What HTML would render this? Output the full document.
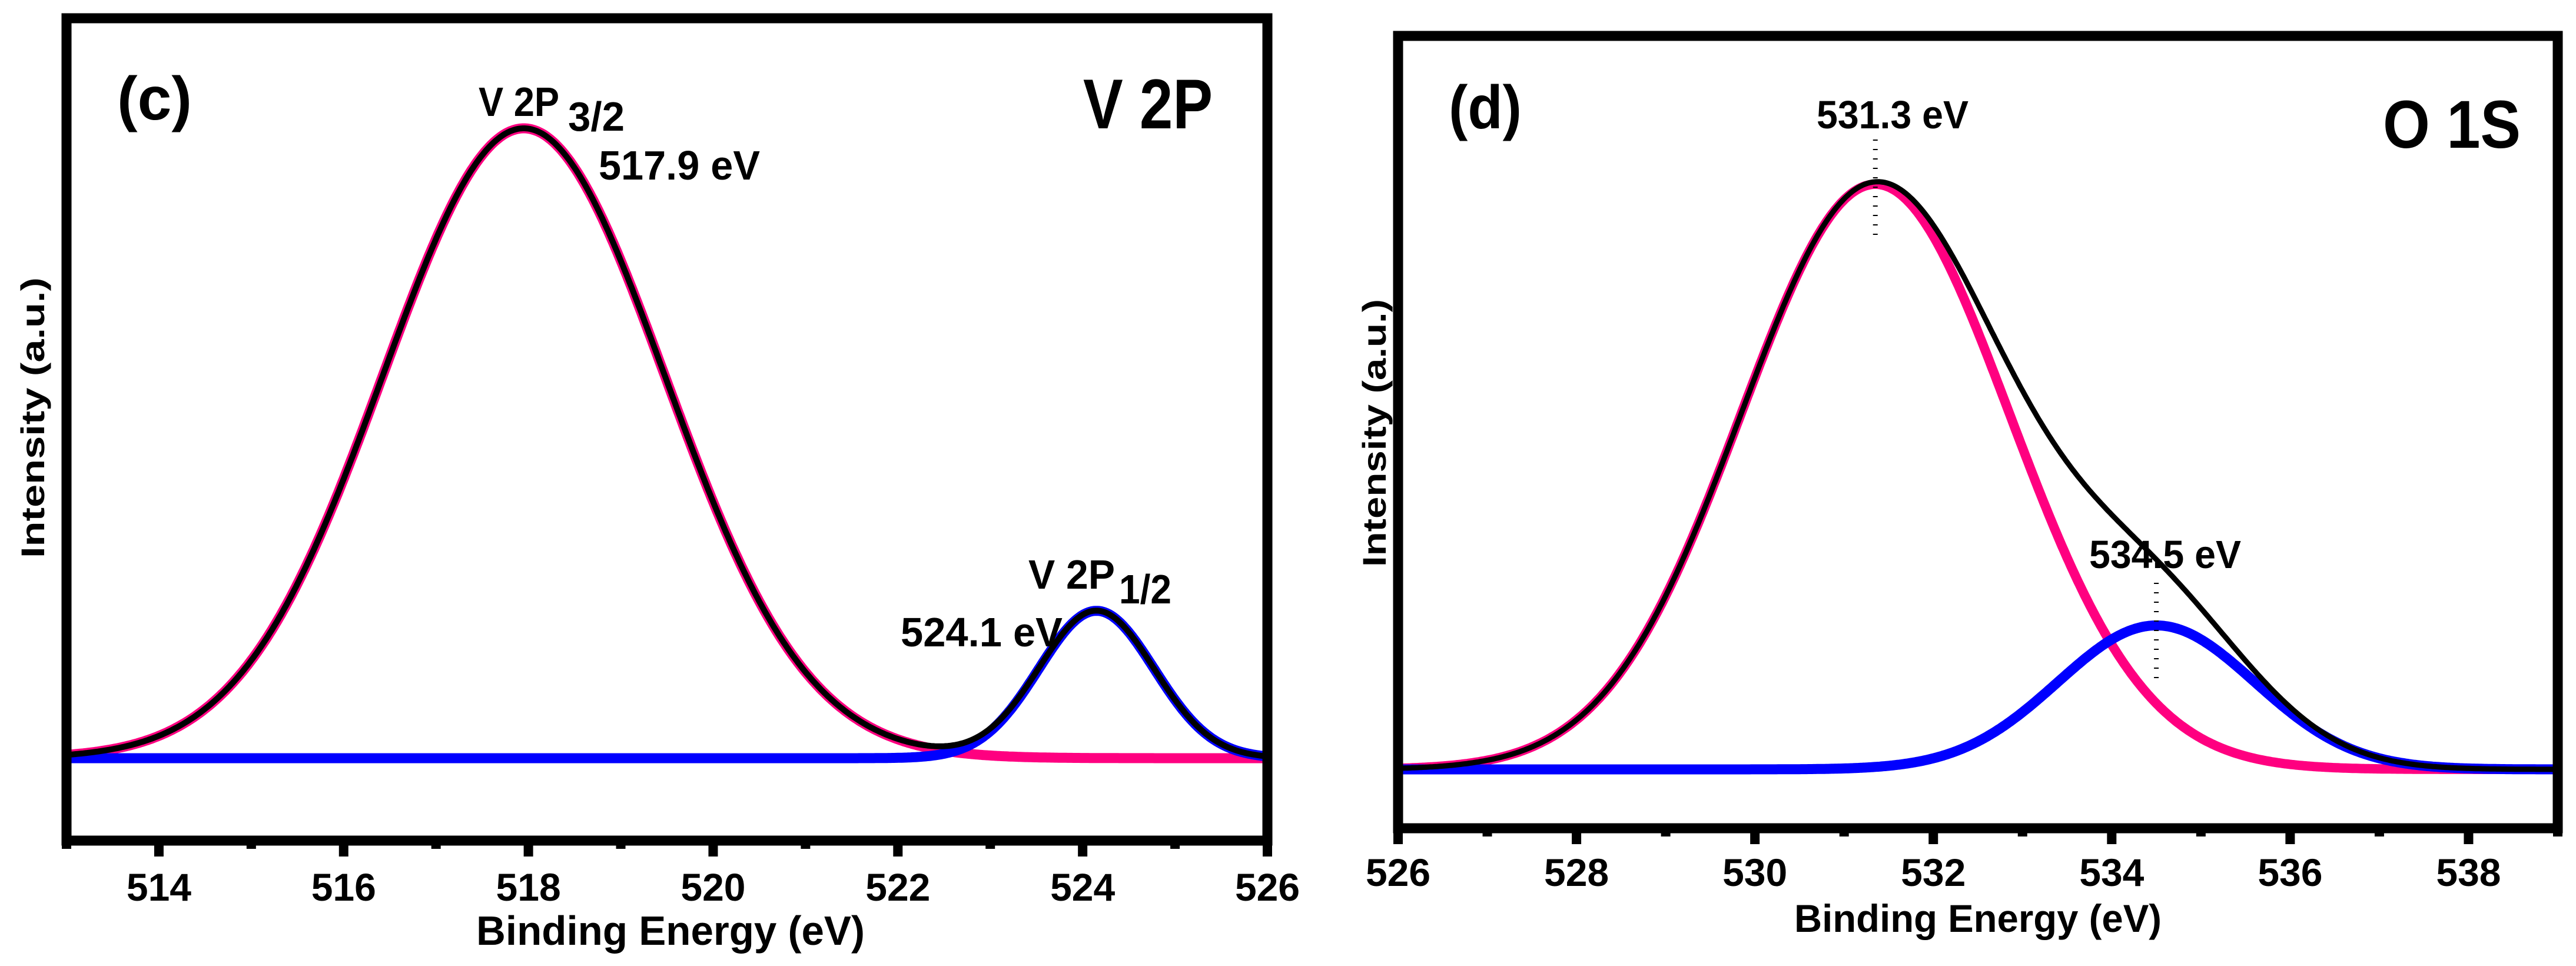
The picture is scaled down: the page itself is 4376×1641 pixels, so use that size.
<!DOCTYPE html>
<html><head><meta charset="utf-8"><style>
html,body{margin:0;padding:0;background:#fff;}
svg{display:block;font-family:"Liberation Sans",Arial,sans-serif;font-weight:bold;}
</style></head><body>
<svg id="chart" width="4376" height="1641" viewBox="0 0 4376 1641" xmlns="http://www.w3.org/2000/svg">
<rect width="4376" height="1641" fill="#fff"/>
<g id="panelC"></g>
<g id="panelD"></g>

<!-- Panel C texts -->
<text x="199" y="203" font-size="104" textLength="127" lengthAdjust="spacingAndGlyphs">(c)</text>
<text x="1840" y="218" font-size="120" textLength="220" lengthAdjust="spacingAndGlyphs">V 2P</text>
<text x="813" y="197" font-size="70" textLength="137" lengthAdjust="spacingAndGlyphs">V 2P</text>
<text x="965" y="222" font-size="70" textLength="96" lengthAdjust="spacingAndGlyphs">3/2</text>
<text x="1017" y="305" font-size="70" textLength="274" lengthAdjust="spacingAndGlyphs">517.9 eV</text>
<text x="1747" y="1000" font-size="70" textLength="147" lengthAdjust="spacingAndGlyphs">V 2P</text>
<text x="1901" y="1025" font-size="70" textLength="89" lengthAdjust="spacingAndGlyphs">1/2</text>
<text x="1530" y="1098" font-size="70" textLength="275" lengthAdjust="spacingAndGlyphs">524.1 eV</text>
<text x="809" y="1605" font-size="70" textLength="660" lengthAdjust="spacingAndGlyphs">Binding Energy (eV)</text>
<text transform="translate(75,948) rotate(-90)" x="0" y="0" font-size="56" textLength="477" lengthAdjust="spacingAndGlyphs">Intensity (a.u.)</text>

<!-- Panel D texts -->
<text x="2461" y="218" font-size="104" textLength="124" lengthAdjust="spacingAndGlyphs">(d)</text>
<text x="4048" y="251" font-size="115" textLength="234" lengthAdjust="spacingAndGlyphs">O 1S</text>
<text x="3086" y="218" font-size="67" textLength="258" lengthAdjust="spacingAndGlyphs">531.3 eV</text>
<text x="3549" y="965" font-size="67" textLength="258" lengthAdjust="spacingAndGlyphs">534.5 eV</text>
<text x="3048" y="1583" font-size="66" textLength="624" lengthAdjust="spacingAndGlyphs">Binding Energy (eV)</text>
<text transform="translate(2354,963) rotate(-90)" x="0" y="0" font-size="56" textLength="455" lengthAdjust="spacingAndGlyphs">Intensity (a.u.)</text>
</svg>
<script>
// ---- Panel C data (V 2p) ----
const cCenters = [517.95, 524.15];
const cHeights = [100, 23.4];
const cFwhm = [3.6, 1.47];
const cTicks = [514, 516, 518, 520, 522, 524, 526];
// ---- Panel D data (O 1s) ----
const dCenters = [531.35, 534.5];
const dHeights = [100, 24.6];
const dFwhm = [3.55, 2.6];
const dTicks = [526, 528, 530, 532, 534, 536, 538];
const dMarkers = [531.35, 534.5];

const NS = "http://www.w3.org/2000/svg";
function mk(tag, attrs, parent){
  const el = document.createElementNS(NS, tag);
  for (const k in attrs) el.setAttribute(k, attrs[k]);
  parent.appendChild(el);
  return el;
}
function gauss(x, c, h, f){ return h*Math.exp(-4*Math.LN2*(x-c)*(x-c)/(f*f)); }

function drawPanel(g, cfg){
  const xs = v => cfg.x0 + (v - cfg.xmin)*(cfg.x1 - cfg.x0)/(cfg.xmax - cfg.xmin);
  const ys = v => cfg.base - v*cfg.yk;
  const colors = ["#ff0080", "#0000ff"];
  const widths = [cfg.pinkW, 17];
  const names = ["peak1-fit-curve", "peak2-fit-curve"];
  const sumPts = [];
  for (let i = 0; i < cfg.centers.length; i++){
    const pts = [];
    for (let x = cfg.xmin; x <= cfg.xmax + 1e-9; x += 0.02){
      pts.push(xs(x).toFixed(1) + "," + ys(gauss(x, cfg.centers[i], cfg.heights[i], cfg.fwhm[i])).toFixed(1));
    }
    const p = mk("polyline", {points: pts.join(" "), fill: "none", stroke: colors[i], "stroke-width": widths[i], "stroke-linejoin": "round"}, g);
    
    
  }
  for (let x = cfg.xmin; x <= cfg.xmax + 1e-9; x += 0.02){
    let s = 0;
    for (let i = 0; i < cfg.centers.length; i++) s += gauss(x, cfg.centers[i], cfg.heights[i], cfg.fwhm[i]);
    sumPts.push(xs(x).toFixed(1) + "," + ys(s).toFixed(1));
  }
  const sp = mk("polyline", {points: sumPts.join(" "), fill: "none", stroke: "#000", "stroke-width": cfg.blackW, "stroke-linejoin": "round"}, g);
  
  

  // markers (dotted lines)
  (cfg.markers || []).forEach((m, i) => {
    const l = mk("line", {x1: xs(m), x2: xs(m), y1: cfg.markerY[i][0], y2: cfg.markerY[i][1], stroke: "#000", "stroke-width": 8, "stroke-dasharray": "2 14"}, g);
    
    
  });

  // frame
  const fr = mk("rect", {x: cfg.x0, y: cfg.top, width: cfg.x1 - cfg.x0, height: cfg.bottom - cfg.top, fill: "none", stroke: "#000", "stroke-width": 17}, g);
  
  

  // ticks
  const tStart = cfg.bottom + 8;
  for (let v = cfg.xmin; v <= cfg.xmax + 1e-9; v += 1){
    const major = cfg.ticks.indexOf(v) >= 0;
    const t = mk("line", {x1: xs(v), x2: xs(v), y1: tStart, y2: tStart + (major ? 19 : 6), stroke: "#000", "stroke-width": 16}, g);
    
    
  }
  cfg.ticks.forEach(v => {
    const tx = mk("text", {x: xs(v), y: cfg.labelY, "font-size": 66, "text-anchor": "middle"}, g);
    tx.textContent = String(v);
    
    
  });
}

drawPanel(document.getElementById("panelC"), {
  xmin: 513, xmax: 526, x0: 113, x1: 2153, top: 31, bottom: 1428,
  base: 1288, yk: 10.7, centers: cCenters, heights: cHeights, fwhm: cFwhm,
  ticks: cTicks, labelY: 1530, pinkW: 17, blackW: 10
});
drawPanel(document.getElementById("panelD"), {
  xmin: 526, xmax: 539, x0: 2375, x1: 4345, top: 61, bottom: 1407,
  base: 1307, yk: 9.94, centers: dCenters, heights: dHeights, fwhm: dFwhm,
  ticks: dTicks, labelY: 1505, pinkW: 16, blackW: 9,
  markers: dMarkers, markerY: [[237, 402], [990, 1155]]
});
</script>
</body></html>
